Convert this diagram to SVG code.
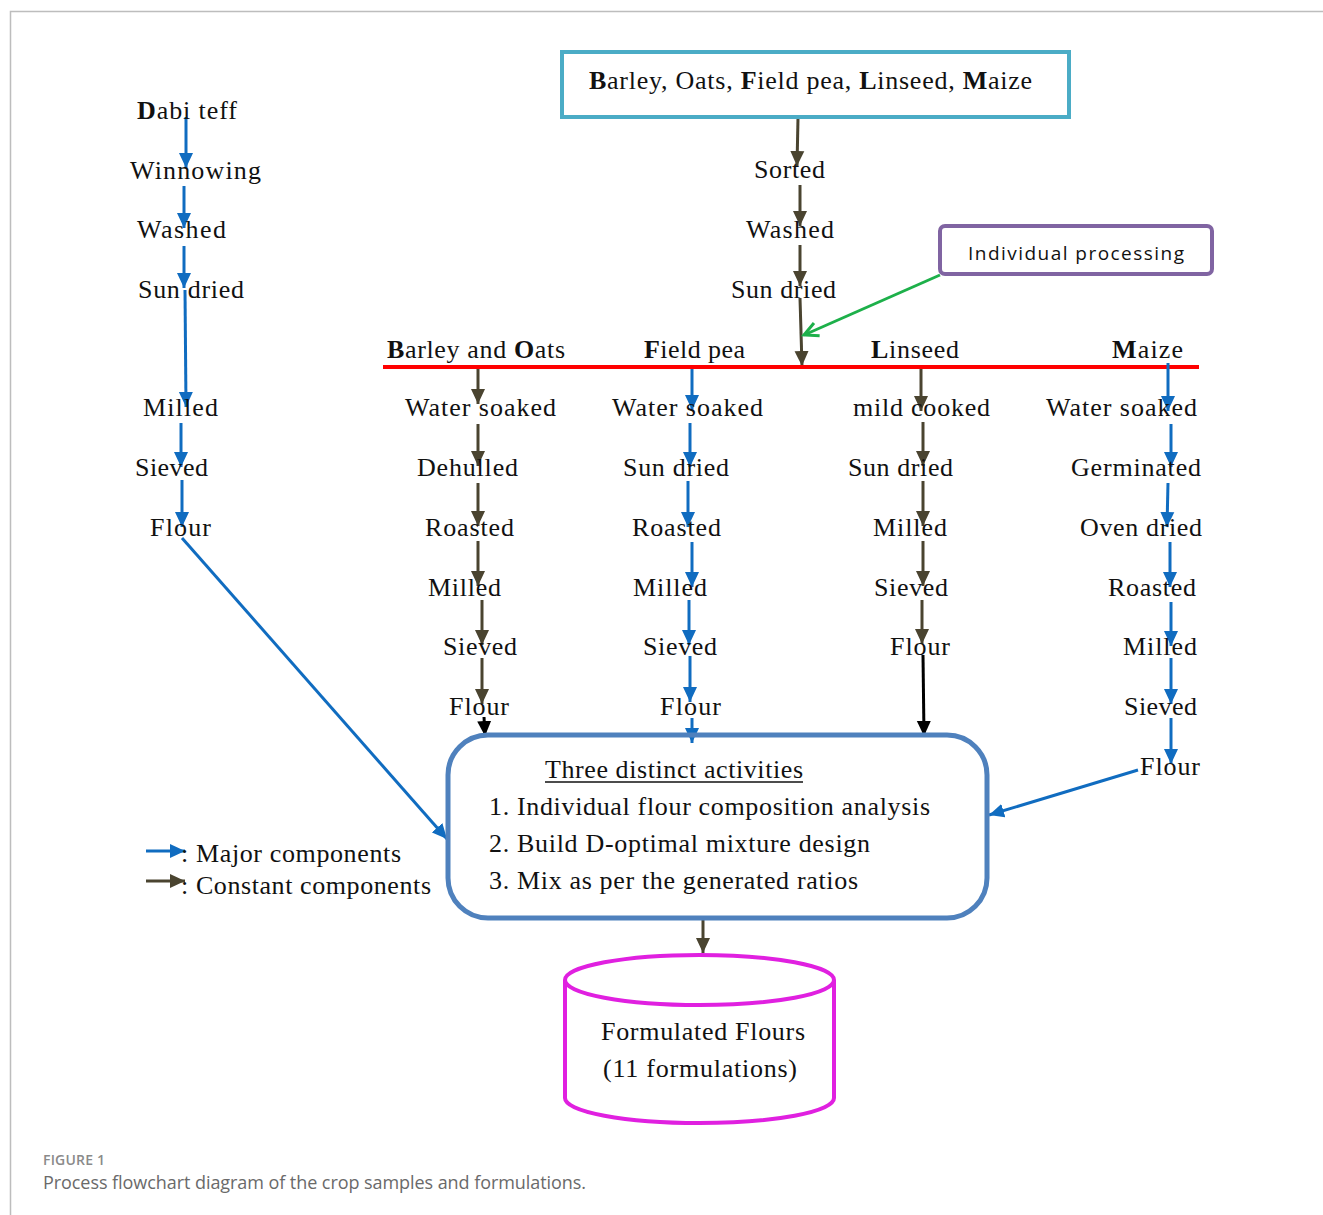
<svg xmlns="http://www.w3.org/2000/svg" width="1323" height="1215" viewBox="0 0 1323 1215">
<style>
.t{font-family:"Liberation Serif","Times New Roman",serif;font-size:26px;fill:#111}
.b{font-weight:bold}
.bl{stroke:#106cc0;stroke-width:3;fill:none}
.dk{stroke:#4a4430;stroke-width:3;fill:none}
.k{stroke:#000;stroke-width:3;fill:none}
</style>
<defs>
<marker id="mb" markerUnits="userSpaceOnUse" markerWidth="16" markerHeight="16" refX="15" refY="8" orient="auto"><path d="M0,1 L15,8 L0,15 z" fill="#106cc0"/></marker>
<marker id="md" markerUnits="userSpaceOnUse" markerWidth="16" markerHeight="16" refX="15" refY="8" orient="auto"><path d="M0,1 L15,8 L0,15 z" fill="#4a4430"/></marker>
<marker id="mk" markerUnits="userSpaceOnUse" markerWidth="16" markerHeight="16" refX="15" refY="8" orient="auto"><path d="M0,1 L15,8 L0,15 z" fill="#000"/></marker>
<marker id="mg" markerUnits="userSpaceOnUse" markerWidth="20" markerHeight="20" refX="17" refY="10" orient="auto"><path d="M3,3 L17,10 L3,17" fill="none" stroke="#1db04a" stroke-width="3"/></marker>
</defs>
<rect width="1323" height="1215" fill="#fff"/>
<path d="M10.5,1215 V11.5 H1323" fill="none" stroke="#bdbdbd" stroke-width="1.5"/>

<g id="connectors">
<!-- Dabi teff -->
<line class="bl" x1="186" y1="117" x2="186" y2="168" marker-end="url(#mb)"/>
<line class="bl" x1="184" y1="186" x2="184" y2="228" marker-end="url(#mb)"/>
<line class="bl" x1="184" y1="246" x2="184" y2="288" marker-end="url(#mb)"/>
<line class="bl" x1="185" y1="290" x2="186" y2="407" marker-end="url(#mb)"/>
<line class="bl" x1="181" y1="423" x2="181" y2="467" marker-end="url(#mb)"/>
<line class="bl" x1="182" y1="480" x2="182" y2="527" marker-end="url(#mb)"/>
<line class="bl" x1="182" y1="538" x2="447" y2="839" marker-end="url(#mb)"/>
<!-- central -->
<line class="dk" x1="798" y1="118" x2="797" y2="166" marker-end="url(#md)"/>
<line class="dk" x1="800" y1="185" x2="800" y2="226" marker-end="url(#md)"/>
<line class="dk" x1="800" y1="245" x2="800" y2="286" marker-end="url(#md)"/>
<line class="dk" x1="800" y1="298" x2="802" y2="366" marker-end="url(#md)"/>
<line x1="940" y1="275" x2="804" y2="335" stroke="#1db04a" stroke-width="3" marker-end="url(#mg)"/>
<line x1="383" y1="367" x2="1199" y2="367" stroke="#ff0000" stroke-width="4"/>
<!-- Barley and Oats -->
<line class="dk" x1="478" y1="369" x2="478" y2="404" marker-end="url(#md)"/>
<line class="dk" x1="478" y1="424" x2="478" y2="466" marker-end="url(#md)"/>
<line class="dk" x1="478" y1="483" x2="478" y2="526" marker-end="url(#md)"/>
<line class="dk" x1="478" y1="541" x2="478" y2="586" marker-end="url(#md)"/>
<line class="dk" x1="482" y1="600" x2="482" y2="645" marker-end="url(#md)"/>
<line class="dk" x1="482" y1="658" x2="482" y2="704" marker-end="url(#md)"/>
<line class="k" x1="484" y1="717" x2="485" y2="736" marker-end="url(#mk)"/>
<!-- Field pea -->
<line class="bl" x1="692" y1="369" x2="692" y2="410" marker-end="url(#mb)"/>
<line class="bl" x1="690" y1="423" x2="690" y2="467" marker-end="url(#mb)"/>
<line class="bl" x1="688" y1="481" x2="688" y2="527" marker-end="url(#mb)"/>
<line class="bl" x1="692" y1="542" x2="692" y2="587" marker-end="url(#mb)"/>
<line class="bl" x1="689" y1="600" x2="689" y2="645" marker-end="url(#mb)"/>
<line class="bl" x1="690" y1="656" x2="690" y2="702" marker-end="url(#mb)"/>
<line class="bl" x1="692" y1="718" x2="692" y2="743" marker-end="url(#mb)"/>
<!-- Linseed -->
<line class="dk" x1="921" y1="369" x2="921" y2="411" marker-end="url(#md)"/>
<line class="dk" x1="923" y1="422" x2="923" y2="466" marker-end="url(#md)"/>
<line class="dk" x1="923" y1="481" x2="923" y2="526" marker-end="url(#md)"/>
<line class="dk" x1="923" y1="541" x2="923" y2="586" marker-end="url(#md)"/>
<line class="dk" x1="922" y1="600" x2="922" y2="644" marker-end="url(#md)"/>
<line class="k" x1="923" y1="655" x2="924" y2="736" marker-end="url(#mk)"/>
<!-- Maize -->
<line class="bl" x1="1168" y1="363" x2="1168" y2="411" marker-end="url(#mb)"/>
<line class="bl" x1="1171" y1="424" x2="1171" y2="467" marker-end="url(#mb)"/>
<line class="bl" x1="1168" y1="483" x2="1167" y2="527" marker-end="url(#mb)"/>
<line class="bl" x1="1170" y1="542" x2="1170" y2="587" marker-end="url(#mb)"/>
<line class="bl" x1="1171" y1="602" x2="1171" y2="646" marker-end="url(#mb)"/>
<line class="bl" x1="1171" y1="658" x2="1171" y2="704" marker-end="url(#mb)"/>
<line class="bl" x1="1171" y1="718" x2="1171" y2="764" marker-end="url(#mb)"/>
<line class="bl" x1="1138" y1="770" x2="989" y2="815" marker-end="url(#mb)"/>
<!-- to cylinder -->
<line class="dk" x1="703" y1="919" x2="703" y2="953" marker-end="url(#md)"/>
<!-- legend -->
<line class="bl" x1="146" y1="851" x2="185" y2="851" marker-end="url(#mb)"/>
<line class="dk" x1="146" y1="881" x2="185" y2="881" marker-end="url(#md)"/>
</g>

<g id="n-dabi">
<text class="t" x="137" y="119" textLength="100"><tspan class="b">D</tspan>abi teff</text>
<text class="t" x="130" y="179" textLength="131">Winnowing</text>
<text class="t" x="137" y="238" textLength="89">Washed</text>
<text class="t" x="138" y="298" textLength="106">Sun dried</text>
<text class="t" x="143" y="416" textLength="75">Milled</text>
<text class="t" x="135" y="476" textLength="73">Sieved</text>
<text class="t" x="150" y="536" textLength="61">Flour</text>
</g>

<g id="n-top">
<rect x="562" y="52" width="507" height="65" fill="none" stroke="#4bacc6" stroke-width="4"/>
<text class="t" x="589" y="89" textLength="443"><tspan class="b">B</tspan>arley, Oats, <tspan class="b">F</tspan>ield pea, <tspan class="b">L</tspan>inseed, <tspan class="b">M</tspan>aize</text>
</g>

<g id="n-common">
<text class="t" x="754" y="178" textLength="71">Sorted</text>
<text class="t" x="746" y="238" textLength="88">Washed</text>
<text class="t" x="731" y="298" textLength="105">Sun dried</text>
</g>

<g id="n-individual">
<rect x="940" y="226" width="272" height="48" rx="5" fill="#fff" stroke="#8064a2" stroke-width="4"/>
<text x="968" y="260" font-family="'Open Sans','Noto Sans',sans-serif" font-size="19" fill="#111" textLength="216">Individual processing</text>
</g>

<g id="n-barley">
<text class="t" x="387" y="358" textLength="178"><tspan class="b">B</tspan>arley and <tspan class="b">O</tspan>ats</text>
<text class="t" x="405" y="416" textLength="151">Water soaked</text>
<text class="t" x="417" y="476" textLength="101">Dehulled</text>
<text class="t" x="425" y="536" textLength="89">Roasted</text>
<text class="t" x="428" y="596" textLength="73">Milled</text>
<text class="t" x="443" y="655" textLength="74">Sieved</text>
<text class="t" x="449" y="715" textLength="60">Flour</text>
</g>

<g id="n-fieldpea">
<text class="t" x="644" y="358" textLength="101"><tspan class="b">F</tspan>ield pea</text>
<text class="t" x="612" y="416" textLength="151">Water soaked</text>
<text class="t" x="623" y="476" textLength="106">Sun dried</text>
<text class="t" x="632" y="536" textLength="89">Roasted</text>
<text class="t" x="633" y="596" textLength="74">Milled</text>
<text class="t" x="643" y="655" textLength="74">Sieved</text>
<text class="t" x="660" y="715" textLength="61">Flour</text>
</g>

<g id="n-linseed">
<text class="t" x="871" y="358" textLength="88"><tspan class="b">L</tspan>inseed</text>
<text class="t" x="853" y="416" textLength="137">mild cooked</text>
<text class="t" x="848" y="476" textLength="105">Sun dried</text>
<text class="t" x="873" y="536" textLength="74">Milled</text>
<text class="t" x="874" y="596" textLength="74">Sieved</text>
<text class="t" x="890" y="655" textLength="60">Flour</text>
</g>

<g id="n-maize">
<text class="t" x="1112" y="358" textLength="71"><tspan class="b">M</tspan>aize</text>
<text class="t" x="1046" y="416" textLength="151">Water soaked</text>
<text class="t" x="1071" y="476" textLength="130">Germinated</text>
<text class="t" x="1080" y="536" textLength="122">Oven dried</text>
<text class="t" x="1108" y="596" textLength="88">Roasted</text>
<text class="t" x="1123" y="655" textLength="74">Milled</text>
<text class="t" x="1124" y="715" textLength="73">Sieved</text>
<text class="t" x="1140" y="775" textLength="60">Flour</text>
</g>

<g id="n-activities">
<rect x="448" y="735" width="539" height="183" rx="40" fill="none" stroke="#4f81bd" stroke-width="5"/>
<text class="t" x="545" y="778" textLength="258">Three distinct activities</text>
<line x1="545" y1="782" x2="803" y2="782" stroke="#111" stroke-width="1.5"/>
<text class="t" x="489" y="815" textLength="441">1. Individual flour composition analysis</text>
<text class="t" x="489" y="852" textLength="381">2. Build D-optimal mixture design</text>
<text class="t" x="489" y="889" textLength="369">3. Mix as per the generated ratios</text>
</g>

<g id="n-legend">
<text class="t" x="181" y="862" textLength="220">: Major components</text>
<text class="t" x="181" y="894" textLength="250">: Constant components</text>
</g>

<g id="n-formulated">
<path d="M565,980 V1098 A134.5,25 0 0 0 834,1098 V980" fill="none" stroke="#e020e0" stroke-width="4"/>
<ellipse cx="699.5" cy="980" rx="134.5" ry="25" fill="none" stroke="#e020e0" stroke-width="4"/>
<text class="t" x="601" y="1040" textLength="204">Formulated Flours</text>
<text class="t" x="603" y="1077" textLength="194">(11 formulations)</text>
</g>

<g id="caption">
<text x="43" y="1165" font-family="'Open Sans','Noto Sans',sans-serif" font-size="14" font-weight="600" fill="#8a8a8a" textLength="62">FIGURE 1</text>
<text x="43" y="1189" font-family="'Open Sans','Noto Sans',sans-serif" font-size="18" fill="#6a6a6a" textLength="543">Process flowchart diagram of the crop samples and formulations.</text>
</g>
</svg>
